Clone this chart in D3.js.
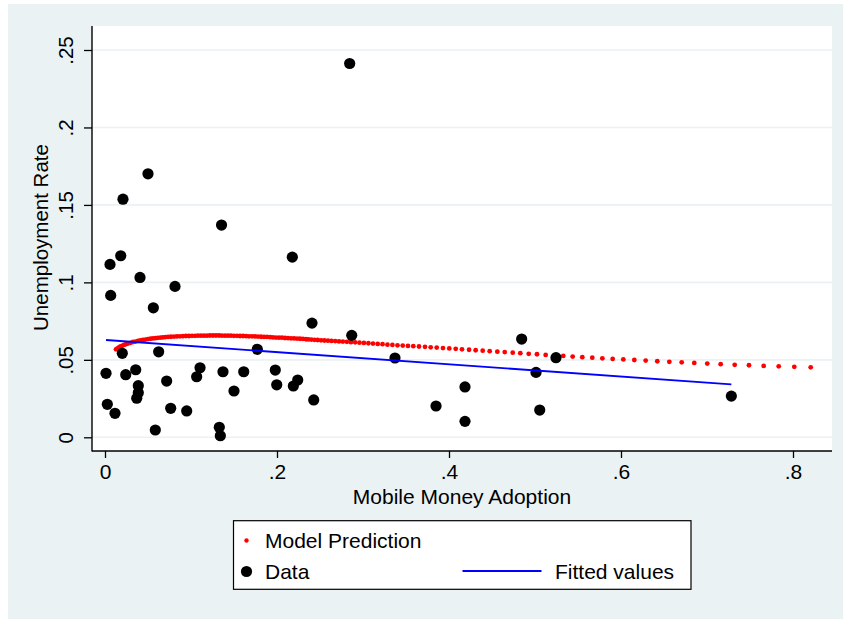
<!DOCTYPE html>
<html>
<head>
<meta charset="utf-8">
<script src="https://d3js.org/d3.v7.min.js"></script>
<style>
  body { margin: 0; background: #ffffff; }
  svg text { font-family: "Liberation Sans", Arial, Helvetica, sans-serif; fill: #000; }
</style>
</head>
<body>
<script>
// Data points (Mobile Money Adoption vs Unemployment Rate)
var dataX = [0.2845, 0.0500, 0.0209, 0.1355, 0.0058, 0.0183, 0.0407, 0.0066, 0.0814, 0.0562,
             0.2178, 0.2407, 0.2869, 0.1771, 0.3372, 0.0201, 0.0624, 0.0012, 0.0241, 0.0357,
             0.0387, 0.0387, 0.0369, 0.0717, 0.0027, 0.0116, 0.0764, 0.0950, 0.0585, 0.1066,
             0.1105, 0.1372, 0.1500, 0.1613, 0.1329, 0.1341, 0.1980, 0.1997, 0.2190, 0.2241,
             0.2427, 0.4845, 0.5244, 0.5012, 0.4186, 0.3849, 0.4186, 0.5055, 0.7283];
var dataY = [0.2413, 0.1701, 0.1537, 0.1370, 0.1116, 0.1172, 0.1032, 0.0916, 0.0974, 0.0836,
             0.1163, 0.0737, 0.0658, 0.0568, 0.0512, 0.0542, 0.0552, 0.0413, 0.0404, 0.0436,
             0.0333, 0.0288, 0.0252, 0.0363, 0.0213, 0.0155, 0.0187, 0.0170, 0.0047, 0.0391,
             0.0449, 0.0423, 0.0299, 0.0423, 0.0065, 0.0010, 0.0434, 0.0339, 0.0331, 0.0370,
             0.0241, 0.0634, 0.0514, 0.0419, 0.0325, 0.0202, 0.0103, 0.0176, 0.0266];

// Model prediction dots
var predX = [0.0128, 0.0145, 0.0163, 0.0180, 0.0198, 0.0221, 0.0244, 0.0267, 0.0297, 0.0326,
             0.0355, 0.0384, 0.0413, 0.0442, 0.0471, 0.0500, 0.0529, 0.0558, 0.0587, 0.0616,
             0.0645, 0.0674, 0.0703, 0.0733, 0.0767, 0.0802, 0.0837, 0.0872, 0.0907, 0.0942,
             0.0977, 0.1012, 0.1047, 0.1081, 0.1116, 0.1151, 0.1186, 0.1221, 0.1256, 0.1291,
             0.1326, 0.1360, 0.1395, 0.1430, 0.1465, 0.1500, 0.1535, 0.1570, 0.1605, 0.1640,
             0.1674, 0.1709, 0.1744, 0.1779, 0.1814, 0.1849, 0.1884, 0.1919, 0.1953, 0.1988,
             0.2023, 0.2058, 0.2093, 0.2128, 0.2163, 0.2198, 0.2233, 0.2267, 0.2302, 0.2337,
             0.2365, 0.2400, 0.2436, 0.2473, 0.2512, 0.2551, 0.2592, 0.2634, 0.2677, 0.2721,
             0.2766, 0.2813, 0.2860, 0.2909, 0.2959, 0.3010, 0.3063, 0.3116, 0.3171, 0.3227,
             0.3284, 0.3342, 0.3401, 0.3462, 0.3523, 0.3585, 0.3651, 0.3721, 0.3787, 0.3857,
             0.3930, 0.4003, 0.4078, 0.4151, 0.4233, 0.4310, 0.4392, 0.4473, 0.4562, 0.4648,
             0.4741, 0.4829, 0.4927, 0.5023, 0.5124, 0.5224, 0.5329, 0.5438, 0.5550, 0.5666,
             0.5783, 0.5903, 0.6027, 0.6155, 0.6287, 0.6422, 0.6562, 0.6706, 0.6852, 0.7003,
             0.7159, 0.7322, 0.7488, 0.7659, 0.7834, 0.8015, 0.8206];
var predY = [0.0568, 0.0574, 0.0580, 0.0586, 0.0590, 0.0596, 0.0601, 0.0605, 0.0610, 0.0615,
             0.0618, 0.0622, 0.0626, 0.0628, 0.0631, 0.0634, 0.0636, 0.0638, 0.0640, 0.0642,
             0.0644, 0.0645, 0.0647, 0.0648, 0.0649, 0.0650, 0.0651, 0.0652, 0.0653, 0.0654,
             0.0654, 0.0655, 0.0655, 0.0656, 0.0656, 0.0656, 0.0656, 0.0657, 0.0657, 0.0657,
             0.0657, 0.0656, 0.0656, 0.0656, 0.0656, 0.0655, 0.0655, 0.0654, 0.0654, 0.0653,
             0.0652, 0.0652, 0.0651, 0.0650, 0.0649, 0.0648, 0.0648, 0.0646, 0.0645, 0.0644,
             0.0643, 0.0643, 0.0641, 0.0640, 0.0639, 0.0638, 0.0637, 0.0636, 0.0635, 0.0633,
             0.0632, 0.0631, 0.0629, 0.0628, 0.0626, 0.0625, 0.0624, 0.0622, 0.0621, 0.0619,
             0.0618, 0.0616, 0.0614, 0.0613, 0.0611, 0.0609, 0.0607, 0.0605, 0.0603, 0.0601,
             0.0598, 0.0596, 0.0594, 0.0592, 0.0590, 0.0588, 0.0586, 0.0584, 0.0581, 0.0579,
             0.0576, 0.0574, 0.0571, 0.0568, 0.0565, 0.0562, 0.0559, 0.0556, 0.0553, 0.0550,
             0.0546, 0.0543, 0.0539, 0.0536, 0.0532, 0.0528, 0.0525, 0.0521, 0.0517, 0.0514,
             0.0510, 0.0506, 0.0503, 0.0499, 0.0495, 0.0491, 0.0487, 0.0484, 0.0480, 0.0476,
             0.0472, 0.0468, 0.0465, 0.0461, 0.0458, 0.0455, 0.0452];

// Linear fit, ends at min and max of data
var fitX = [0.0012, 0.7283];
var fitY = [0.0628, 0.0342];

var xTicks = [0, 0.2, 0.4, 0.6, 0.8];
var yTicks = [0, 0.05, 0.1, 0.15, 0.2, 0.25];
var legendLabels = ["Model Prediction", "Data", "Fitted values"];

var w = 843, h = 619;
var plotL = 92, plotR = 832, plotT = 26, plotB = 451;
var bg = "#eaf2f3";

var x = d3.scaleLinear().domain([0, 0.8]).range([105, 793]);
var y = d3.scaleLinear().domain([0, 0.25]).range([437.3, 50]);

function stataFmt(d) {
	return d === 0 ? "0" : String(d).replace(/^0/, "");
}

var svg = d3.select("body").append("svg")
	.attr("width", w)
	.attr("height", h);

// graph region and plot region
svg.append("rect")
	.attr("x", 8).attr("y", 4)
	.attr("width", w - 8).attr("height", h - 4)
	.attr("fill", bg);

svg.append("rect")
	.attr("x", plotL).attr("y", plotT)
	.attr("width", plotR - plotL).attr("height", plotB - plotT)
	.attr("fill", "#ffffff");

// gridlines
svg.append("g")
	.selectAll("line")
	.data(yTicks)
	.enter().append("line")
		.attr("x1", plotL).attr("x2", plotR)
		.attr("y1", function(d) { return y(d); })
		.attr("y2", function(d) { return y(d); })
		.attr("stroke", bg)
		.attr("stroke-width", 1.6);

// axes
var xAxis = svg.append("g")
	.attr("transform", "translate(0," + plotB + ")")
	.call(d3.axisBottom(x).tickValues(xTicks).tickFormat(stataFmt).tickSize(7).tickSizeOuter(0));
xAxis.select(".domain").remove();
xAxis.selectAll("line").attr("stroke", "#000").attr("stroke-width", 1.3);
xAxis.selectAll("text")
	.attr("y", 28.3)
	.attr("dy", null)
	.attr("font-size", 21);

var yAxis = svg.append("g")
	.attr("transform", "translate(" + plotL + ",0)")
	.call(d3.axisLeft(y).tickValues(yTicks).tickFormat(stataFmt).tickSize(8).tickSizeOuter(0));
yAxis.select(".domain").remove();
yAxis.selectAll("line").attr("stroke", "#000").attr("stroke-width", 1.3);
yAxis.selectAll("text")
	.attr("x", null).attr("y", null).attr("dy", null)
	.attr("text-anchor", "middle")
	.attr("transform", "translate(-19.5,0) rotate(-90)")
	.attr("font-size", 20.5);

svg.append("line")
	.attr("x1", plotL).attr("x2", plotL)
	.attr("y1", plotT).attr("y2", plotB + 0.5)
	.attr("stroke", "#000").attr("stroke-width", 1.4);
svg.append("line")
	.attr("x1", plotL).attr("x2", plotR)
	.attr("y1", plotB).attr("y2", plotB)
	.attr("stroke", "#000").attr("stroke-width", 1.4);

// axis titles
svg.append("text")
	.attr("x", (plotL + plotR) / 2)
	.attr("y", 503.5)
	.attr("text-anchor", "middle")
	.attr("font-size", 21)
	.text("Mobile Money Adoption");

svg.append("text")
	.attr("transform", "translate(48.3,237.5) rotate(-90)")
	.attr("text-anchor", "middle")
	.attr("font-size", 20.5)
	.text("Unemployment Rate");

// model prediction
svg.append("g")
	.selectAll("circle")
	.data(predX)
	.enter().append("circle")
		.attr("cx", function(d) { return x(d); })
		.attr("cy", function(d, i) { return y(predY[i]); })
		.attr("r", 2.4)
		.attr("fill", "#ff0000");

// data
svg.append("g")
	.selectAll("circle")
	.data(dataX)
	.enter().append("circle")
		.attr("cx", function(d) { return x(d); })
		.attr("cy", function(d, i) { return y(dataY[i]); })
		.attr("r", 5.6)
		.attr("fill", "#000");

// fitted values
svg.append("path")
	.datum(d3.range(fitX.length))
	.attr("fill", "none")
	.attr("stroke", "#0000ff")
	.attr("stroke-width", 1.8)
	.attr("d", d3.line()
		.x(function(i) { return x(fitX[i]); })
		.y(function(i) { return y(fitY[i]); }));

// legend
var legend = svg.append("g");
legend.append("rect")
	.attr("x", 233.5).attr("y", 520.7)
	.attr("width", 457.5).attr("height", 68.6)
	.attr("fill", "#fff")
	.attr("stroke", "#000")
	.attr("stroke-width", 1.2);

legend.append("circle")
	.attr("cx", 246.5).attr("cy", 540.5)
	.attr("r", 2.2).attr("fill", "#ff0000");
legend.append("circle")
	.attr("cx", 246.5).attr("cy", 571.5)
	.attr("r", 5.6).attr("fill", "#000");
legend.append("line")
	.attr("x1", 462.5).attr("x2", 541.5)
	.attr("y1", 571).attr("y2", 571)
	.attr("stroke", "#0000ff").attr("stroke-width", 1.8);

legend.selectAll("text")
	.data(legendLabels)
	.enter().append("text")
		.attr("x", function(d, i) { return i == 2 ? 555 : 265; })
		.attr("y", function(d, i) { return i == 0 ? 548.3 : 578.8; })
		.attr("font-size", 21)
		.text(function(d) { return d; });
</script>
</body>
</html>
